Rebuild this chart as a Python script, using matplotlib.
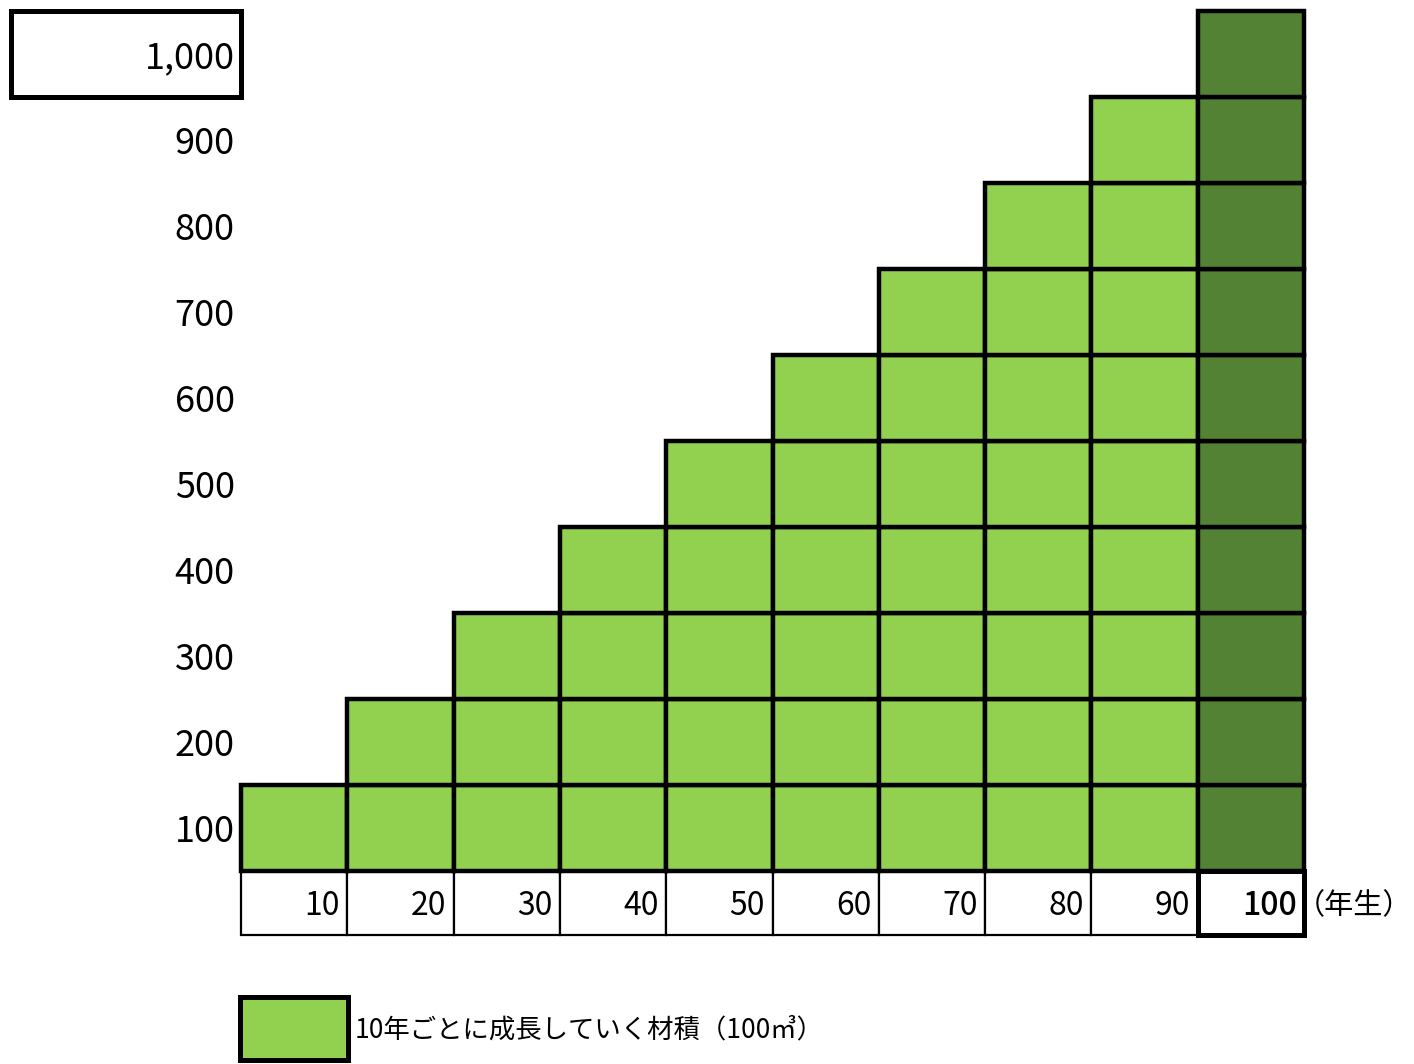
import matplotlib.pyplot as plt
from matplotlib.patches import Rectangle

plt.rcParams['font.family'] = ['Noto Sans CJK JP', 'DejaVu Sans']

# stand age (years) and timber volume per stand
ages = [10, 20, 30, 40, 50, 60, 70, 80, 90, 100]
volumes = [100, 200, 300, 400, 500, 600, 700, 800, 900, 1000]
y_labels = ['100', '200', '300', '400', '500', '600', '700', '800', '900', '1,000']
unit_label = '（年生）'
legend_text = '10年ごとに成長していく材積（100㎥）'
block = 100

light_green = '#92D050'
dark_green = '#548235'

fig = plt.figure(figsize=(14.14, 10.64), dpi=100)
W, H = 1414, 1064
left, right, top, bottom = 241, 1304, 11, 871
ax = fig.add_axes([left / W, 1 - bottom / H, (right - left) / W, (bottom - top) / H])
ax.set_xlim(0, len(ages))
ax.set_ylim(0, len(volumes))
ax.axis('off')

lw = 3.2
# stacked blocks of 100 per column
for i, (age, vol) in enumerate(zip(ages, volumes)):
    n = vol // block
    color = dark_green if age == ages[-1] else light_green
    ax.bar([i + 0.5] * n, [1] * n, bottom=list(range(n)), width=1,
           color=color, edgecolor='black', linewidth=lw, clip_on=False, zorder=2)

row_h = 86
label_h = 64 / row_h
# x labels in cells
for i, age in enumerate(ages):
    last = age == ages[-1]
    ax.add_patch(Rectangle((i, -label_h), 1, label_h, facecolor='white',
                           edgecolor='black', linewidth=3.6 if last else 1.6,
                           clip_on=False, zorder=3 if last else 1))
    ax.text(i + 1 - 0.07, -label_h / 2 - 0.04, str(age), ha='right', va='center',
            fontsize=23, fontweight='medium' if last else 'normal', zorder=4)
ax.text((W - 2 - left) / 106.3, -label_h / 2 - 0.04, unit_label, ha='right', va='center', fontsize=21)

# y labels
for j, lab in enumerate(y_labels):
    ax.text(-0.06, j + 0.45, lab, ha='right', va='center', fontsize=26)
# box around top label
ax.add_patch(Rectangle((-230 / 106.3, len(volumes) - 1), 230 / 106.3, 1,
                       facecolor='none', edgecolor='black', linewidth=3.6, clip_on=False))

# legend
ax.add_patch(Rectangle((-0.01, (bottom - 1060) / row_h), 1.02, 63 / row_h,
                       facecolor=light_green, edgecolor='black', linewidth=3.6, clip_on=False))
ax.text(1.07, (bottom - 1030) / row_h, legend_text, ha='left', va='center', fontsize=19)

fig.savefig('out.png', dpi=100)
